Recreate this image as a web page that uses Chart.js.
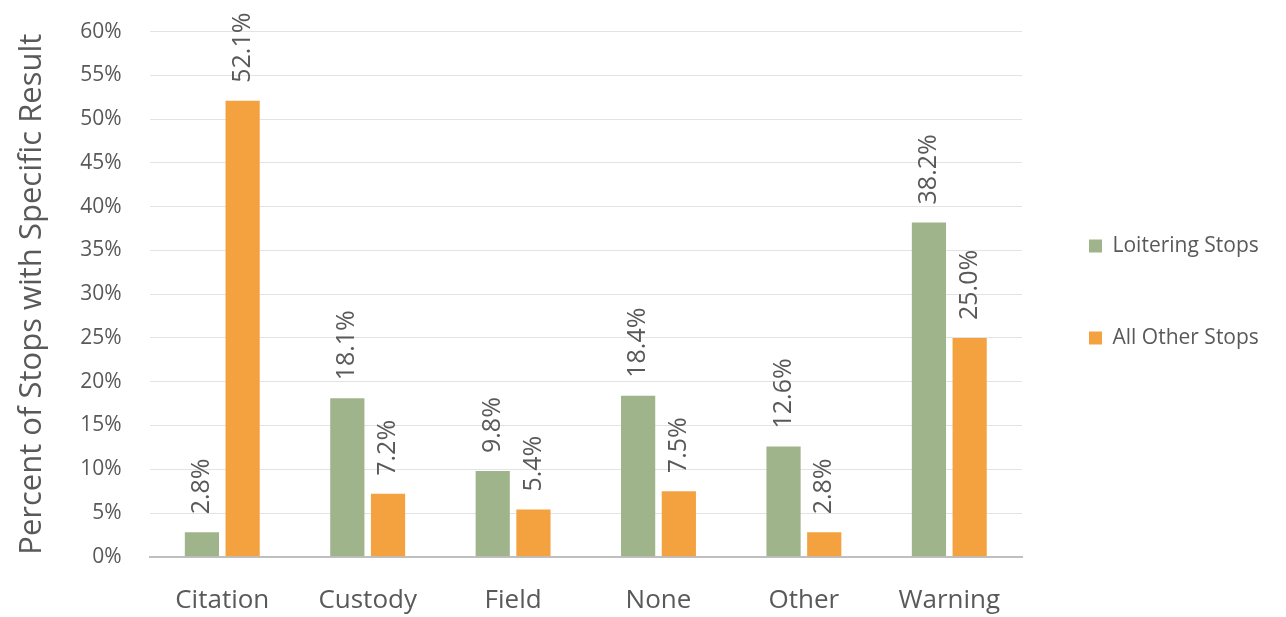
<!DOCTYPE html>
<html>
<head>
<meta charset="utf-8">
<script src="https://cdn.jsdelivr.net/npm/chart.js@4/dist/chart.umd.min.js"></script>
<style>
  html, body { margin: 0; padding: 0; background: #fff; }
  #wrap { width: 1286px; height: 617px; }
</style>
</head>
<body>
<div id="wrap"><canvas id="result-chart"></canvas></div>
<script>
const categories = ["Citation", "Custody", "Field", "None", "Other", "Warning"];
const loiteringStops = [2.8, 18.1, 9.8, 18.4, 12.6, 38.2];
const allOtherStops = [52.1, 7.2, 5.4, 7.5, 2.8, 25.0];
const seriesNames = ["Loitering Stops", "All Other Stops"];

const textColor = "#595959";
const fontFamily = "'Open Sans', 'Noto Sans', sans-serif";

/**
 * Rotated value labels above each bar
 */
const barLabels = {
    id: "barLabels",
    afterDatasetsDraw(chart) {
        const ctx = chart.ctx;
        ctx.save();
        ctx.font = "25px " + fontFamily;
        ctx.fillStyle = textColor;
        ctx.textAlign = "left";
        ctx.textBaseline = "middle";
        chart.data.datasets.forEach((dataset, i) => {
            const meta = chart.getDatasetMeta(i);
            meta.data.forEach((bar, index) => {
                ctx.save();
                ctx.translate(bar.x, bar.y - 18);
                ctx.rotate(-Math.PI / 2);
                ctx.fillText(dataset.data[index].toFixed(1) + "%", 0, 0);
                ctx.restore();
            });
        });
        ctx.restore();
    }
};

/**
 * Legend width / position tweak
 */
const legendTweak = {
    id: "legendTweak",
    afterInit(chart) {
        const legend = chart.legend;
        const origFit = legend.fit;
        legend.fit = function() {
            origFit.call(this);
            this.width = 258;
        };
    },
    afterLayout(chart) {
        chart.legend.bottom -= 70;
        chart.legend.left -= 4;
    }
};

const resultChart = new Chart(document.getElementById("result-chart"), {
    type: "bar",
    data: {
        labels: categories,
        datasets: [
            {
                label: seriesNames[0],
                data: loiteringStops,
                backgroundColor: "#9fb48b"
            },
            {
                label: seriesNames[1],
                data: allOtherStops,
                backgroundColor: "#f3a23f"
            }
        ]
    },
    options: {
        animation: false,
        responsive: true,
        maintainAspectRatio: false,
        layout: {
            padding: { top: 10, right: 6, bottom: -27, left: 14 }
        },
        datasets: {
            bar: {
                categoryPercentage: 0.56,
                barPercentage: 0.84
            }
        },
        scales: {
            x: {
                grid: { display: false, drawTicks: false },
                border: { color: "#bfbfbf", width: 2 },
                ticks: {
                    color: textColor,
                    font: { family: fontFamily, size: 26 },
                    padding: 28
                }
            },
            y: {
                min: 0,
                max: 60,
                grid: {
                    color: "#e3e3e3",
                    drawTicks: true,
                    tickLength: 9,
                    tickColor: "rgba(0,0,0,0)"
                },
                border: { display: false },
                ticks: {
                    stepSize: 5,
                    color: textColor,
                    font: { family: fontFamily, size: 21 },
                    padding: 19,
                    callback: function(value) {
                        return value + "%";
                    }
                },
                title: {
                    display: true,
                    text: "Percent of Stops with Specific Result",
                    color: textColor,
                    font: { family: fontFamily, size: 31 },
                    padding: { top: 0, bottom: 10 }
                }
            }
        },
        plugins: {
            legend: {
                position: "right",
                labels: {
                    color: textColor,
                    font: { family: fontFamily, size: 21 },
                    boxWidth: 13,
                    boxHeight: 13,
                    padding: 71
                }
            },
            tooltip: { enabled: false }
        }
    },
    plugins: [barLabels, legendTweak]
});
</script>
</body>
</html>
